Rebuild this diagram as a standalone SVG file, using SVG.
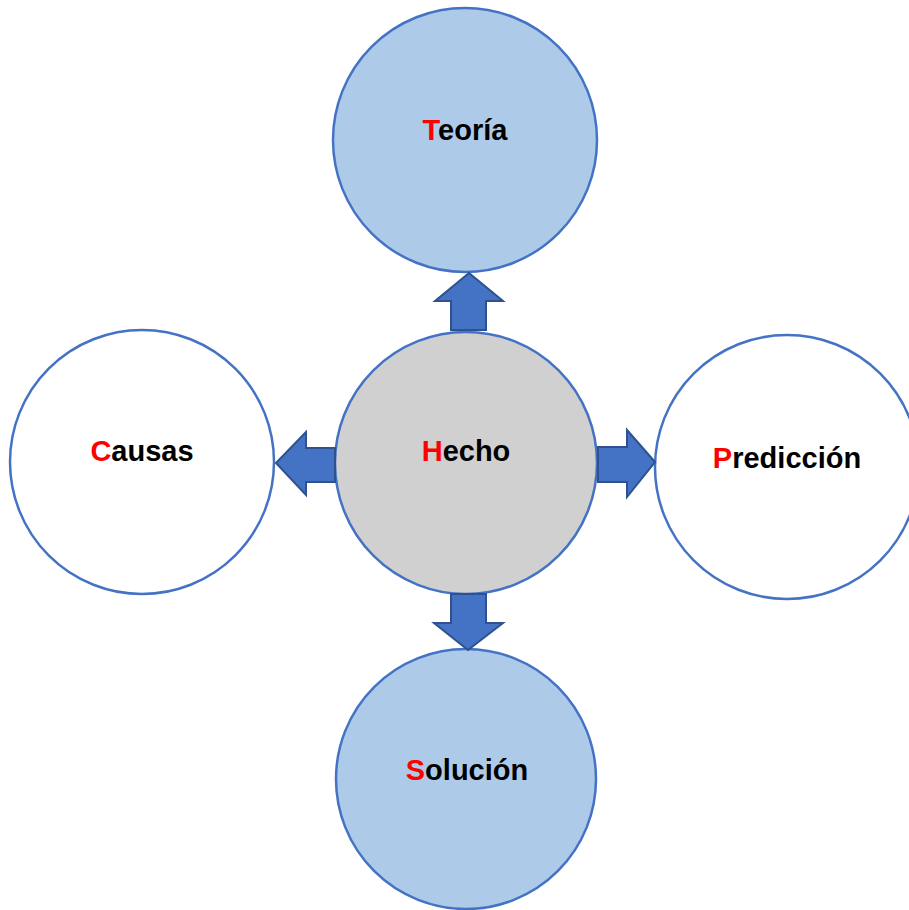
<svg xmlns="http://www.w3.org/2000/svg" width="909" height="910" viewBox="0 0 909 910">
  <style>
    .node { stroke: #4472C4; stroke-width: 2.5; }
    .blue { fill: #ADCBE9; }
    .grey { fill: #D0D0D0; }
    .white { fill: #FFFFFF; }
    .label { font-family: "Liberation Sans", Arial, sans-serif; font-weight: bold; font-size: 29px; fill: #000000; text-anchor: middle; }
    .initial { fill: #FF0000; }
    .arrow { fill: #4472C4; stroke: #2F528F; stroke-width: 2; stroke-linejoin: miter; }
  </style>
  <rect width="909" height="910" fill="#FFFFFF"/>

  <g id="teoria">
    <circle class="node blue" cx="465" cy="140" r="132"/>
    <text class="label" x="465" y="140"><tspan class="initial">T</tspan>eoría</text>
  </g>

  <g id="hecho">
    <circle class="node grey" cx="466" cy="463" r="131"/>
    <text class="label" x="466" y="461"><tspan class="initial">H</tspan>echo</text>
  </g>

  <g id="causas">
    <circle class="node white" cx="142" cy="462" r="132"/>
    <text class="label" x="142" y="461"><tspan class="initial">C</tspan>ausas</text>
  </g>

  <g id="prediccion">
    <circle class="node white" cx="787" cy="467" r="132"/>
    <text class="label" x="787" y="468"><tspan class="initial">P</tspan>redicción</text>
  </g>

  <g id="solucion">
    <circle class="node blue" cx="466" cy="779" r="130"/>
    <text class="label" x="467" y="780"><tspan class="initial">S</tspan>olución</text>
  </g>

  <g id="connectors">
    <!-- up -->
    <polygon class="arrow" points="469,273 503,301 486,301 486,330 451,330 451,301 435,301"/>
    <!-- left -->
    <polygon class="arrow" points="276,463 306,432 306,448 335,448 335,482 306,482 306,495"/>
    <!-- right -->
    <polygon class="arrow" points="655,462 627,430 627,447 598,447 598,482 627,482 627,497"/>
    <!-- down -->
    <polygon class="arrow" points="468,650 503,623 486,623 486,594 451,594 451,623 434,623"/>
  </g>
</svg>
